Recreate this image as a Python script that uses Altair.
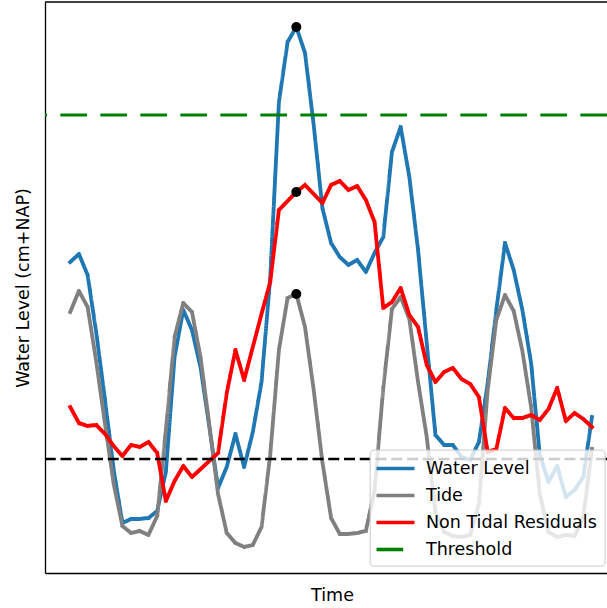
import altair as alt
import pandas as pd

# Hourly steps of the storm-surge window
steps = list(range(61))

# Measured water level (cm+NAP)
water_level = [
    98.5, 102.5, 92, 63, 29.5, -5.5, -32, -30, -30, -29.5,
    -26, -6.5, 51, 74.5, 64.5, 45.5, 16, -14.5, -4, 12.5,
    -4, 13.5, 38.5, 90.5, 178.5, 208.5, 216, 203, 167, 125.5,
    108, 101, 97, 99.5, 93.5, 103, 111, 153.5, 166, 141,
    104.5, 58, 12, 7, 7, 1, -0.5, 8.5, 37.5, 74.5,
    108, 94.5, 74.5, 48, 2, -11.5, -3.5, -19, -15.5, -9,
    21,
]

# Astronomical tide (cm+NAP)
tide = [
    73.5, 84, 76, 48.5, 17.5, -12.5, -33.5, -37, -36, -38,
    -28.5, 14.5, 61, 78, 73.5, 50.5, 17, -17.5, -37, -42,
    -44, -43, -34, 2, 54.5, 80.5, 82.5, 66, 34.5, -1.5,
    -29.5, -37.5, -37.5, -37, -36, -15.5, 35.5, 75, 81, 70,
    38.5, 11, -26.5, -36.5, -38.5, -39, -38, -22.5, 34, 69.5,
    82, 74, 54, 26, -17.5, -36.5, -39, -38, -38.5, -29,
    5,
]

# Non tidal residuals (cm)
residuals = [
    26, 18, 16.5, 17, 12.5, 6.5, 1.5, 7, 6, 8.5,
    3, -21, -11, -3.5, -9, -5, -1, 3, 33, 54.5,
    39.5, 56, 72.5, 88.5, 124.5, 129, 133.5, 137, 132.5, 128,
    137, 139, 134.5, 136.5, 129.5, 118.5, 75.5, 78.5, 85.5, 72,
    66, 47, 38.5, 43.5, 45.5, 40, 37.5, 31, 3.5, 5,
    25.5, 20.5, 20.5, 22, 19.5, 25, 35.5, 19, 23, 20,
    16,
]

threshold = 172
reference_level = 0

series_names = ["Water Level", "Tide", "Non Tidal Residuals", "Threshold"]
series_colors = ["#1f77b4", "#808080", "#ff0000", "#008000"]
series_dashes = [[1, 0], [1, 0], [1, 0], [26.7, 13.3]]

FONT = "DejaVu Sans"
FONT_SIZE = 17.5

n = len(steps)
long = pd.DataFrame({
    "step": steps * 3,
    "value": water_level + tide + residuals,
    "series": ["Water Level"] * n + ["Tide"] * n + ["Non Tidal Residuals"] * n,
})

# Peak of the water level, marked on all three series
peak = max(range(n), key=lambda i: water_level[i])
peaks = pd.DataFrame({
    "step": [steps[peak]] * 3,
    "value": [water_level[peak], residuals[peak], tide[peak]],
})

x_enc = alt.X(
    "step:Q",
    scale=alt.Scale(domain=[-2.9, 61.73], nice=False, zero=False),
    axis=alt.Axis(
        title="Time", ticks=False, labels=False, grid=False,
        domainColor="black", domainWidth=1.3,
        titleFont=FONT, titleFontSize=FONT_SIZE, titleFontWeight="normal", titleColor="black",
        titleX=287, titleY=27, titleBaseline="alphabetic",
    ),
)
y_enc = alt.Y(
    "value:Q",
    scale=alt.Scale(domain=[-57, 228.5], nice=False, zero=False),
    axis=alt.Axis(
        title="Water Level (cm+NAP)", ticks=False, labels=False, grid=False,
        domainColor="black", domainWidth=1.3,
        titleFont=FONT, titleFontSize=FONT_SIZE, titleFontWeight="normal", titleColor="black",
        titleAngle=270, titleX=-16.5, titleY=285.5, titleBaseline="alphabetic",
        titleAlign="center",
    ),
)

legend = alt.Legend(
    orient="none", legendX=325, legendY=448,
    symbolType="M-2.235,0H2.235", symbolSize=289, symbolStrokeWidth=3.6,
    symbolOffset=7, labelOffset=20,
    labelFont=FONT, labelFontSize=FONT_SIZE, labelColor="black", labelLimit=400,
    padding=8, rowPadding=8,
    fillColor="rgba(255,255,255,0.8)", strokeColor="rgba(204,204,204,0.8)",
    cornerRadius=4,
)
color_enc = alt.Color(
    "series:N", title=None,
    scale=alt.Scale(domain=series_names, range=series_colors),
    legend=legend,
)
dash_enc = alt.StrokeDash(
    "series:N", title=None,
    scale=alt.Scale(domain=series_names, range=series_dashes),
    legend=legend,
)

base = alt.Chart(long).mark_line(strokeWidth=3.8, strokeCap="square", strokeJoin="round")
layers = [
    base.transform_filter(alt.datum.series == name).encode(
        x=x_enc, y=y_enc, color=color_enc, strokeDash=dash_enc
    )
    for name in ["Water Level", "Tide", "Non Tidal Residuals"]
]

threshold_rule = alt.Chart(
    pd.DataFrame({"value": [threshold], "series": ["Threshold"]})
).mark_rule(strokeWidth=3).encode(y=y_enc, color=color_enc, strokeDash=dash_enc)

zero_rule = alt.Chart(pd.DataFrame({"value": [reference_level]})).mark_rule(
    color="black", strokeWidth=2.6, strokeDash=[11, 4.75]
).encode(y=y_enc)

peak_points = alt.Chart(peaks).mark_circle(size=100, color="black", opacity=1).encode(
    x=x_enc, y=y_enc
)

top_spine = alt.Chart(pd.DataFrame({"edge": [0]})).mark_rule(
    color="black", strokeWidth=1.3
).encode(y=alt.value(0))

chart = alt.layer(
    *layers, threshold_rule, zero_rule, peak_points, top_spine
).properties(
    width=562,
    height=571,
    autosize=alt.AutoSizeParams(type="none"),
    padding={"left": 45, "top": 2, "right": 0, "bottom": 35},
).configure(font=FONT).configure_view(strokeWidth=0).configure_legend(strokeWidth=1.3)

chart.save("out.html", embed_options={"renderer": "svg", "actions": False})
